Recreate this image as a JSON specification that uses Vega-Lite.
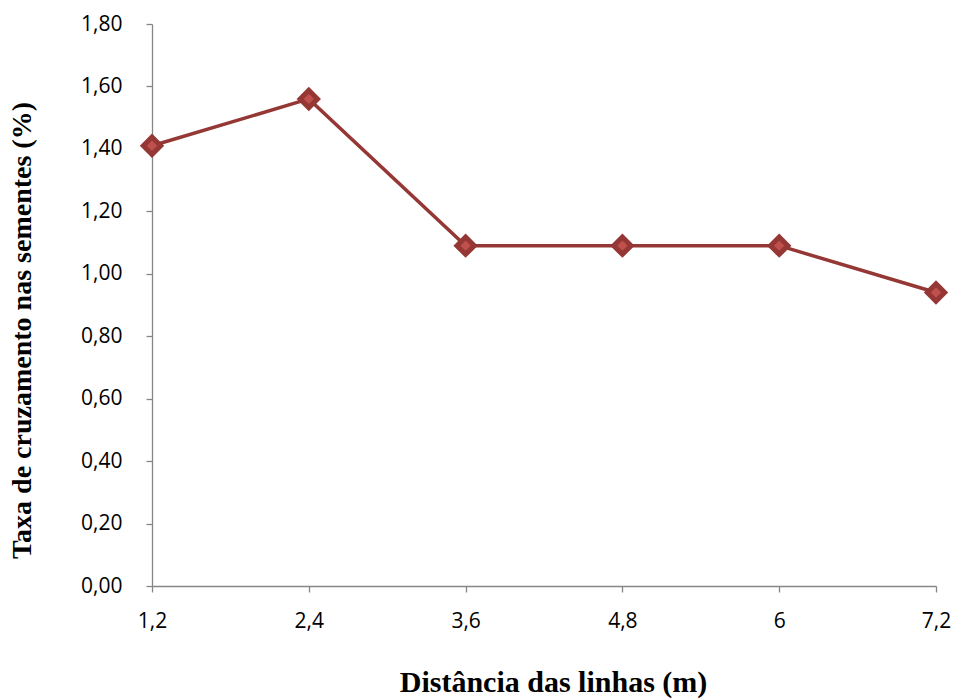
{
  "$schema": "https://vega.github.io/schema/vega-lite/v6.json",
  "width": 784,
  "height": 562,
  "autosize": {"type": "none"},
  "padding": {"left": 152, "top": 24, "right": 18, "bottom": 113},
  "background": "white",
  "config": {
    "view": {"stroke": null},
    "axis": {
      "grid": false,
      "domainColor": "#868686",
      "tickColor": "#868686",
      "domainWidth": 1.3,
      "tickWidth": 1.3,
      "tickSize": 6,
      "labelColor": "#000000",
      "titleFont": "Liberation Serif",
      "titleFontWeight": "bold",
      "titleColor": "#000000"
    }
  },
  "data": {
    "values": [
      {"distancia": "1,2", "taxa": 1.41},
      {"distancia": "2,4", "taxa": 1.56},
      {"distancia": "3,6", "taxa": 1.09},
      {"distancia": "4,8", "taxa": 1.09},
      {"distancia": "6", "taxa": 1.09},
      {"distancia": "7,2", "taxa": 0.94}
    ]
  },
  "encoding": {
    "x": {
      "field": "distancia",
      "type": "ordinal",
      "sort": null,
      "scale": {"type": "point", "padding": 0},
      "axis": {
        "title": "Distância das linhas (m)",
        "titleFontSize": 30,
        "labelFont": "Open Sans",
        "labelFontSize": 21,
        "labelAngle": 0,
        "labelPadding": 18,
        "titleX": 401,
        "titleY": 105,
        "titleBaseline": "alphabetic",
        "titleAnchor": null
      }
    },
    "y": {
      "field": "taxa",
      "type": "quantitative",
      "scale": {"domain": [0, 1.8], "nice": false},
      "axis": {
        "title": "Taxa de cruzamento  nas sementes  (%)",
        "titleFontSize": 28,
        "labelFont": "Open Sans",
        "labelFontSize": 21,
        "values": [0, 0.2, 0.4, 0.6, 0.8, 1.0, 1.2, 1.4, 1.6, 1.8],
        "labelExpr": "replace(format(datum.value, '.2f'), '.', ',')",
        "labelPadding": 24,
        "titleX": -122,
        "titleY": 306,
        "titleBaseline": "alphabetic",
        "titleAnchor": null
      }
    }
  },
  "layer": [
    {"mark": {"type": "line", "color": "#953735", "strokeWidth": 3.5}},
    {
      "mark": {
        "type": "point",
        "shape": "diamond",
        "filled": true,
        "size": 300,
        "fill": "#C0504D",
        "stroke": "#953735",
        "strokeWidth": 5,
        "opacity": 1
      }
    }
  ]
}
